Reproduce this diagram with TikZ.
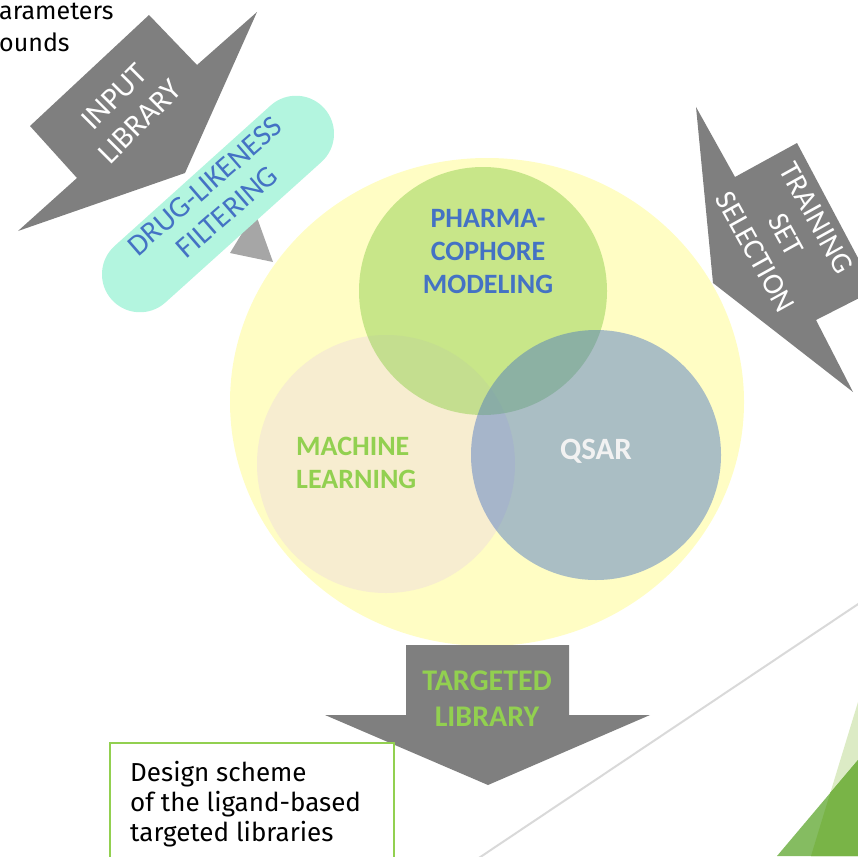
\documentclass[tikz,border=0pt]{standalone}
\usepackage{fontspec}
\setmainfont{Carlito}
\newfontfamily\notefont{Fira Sans}
\definecolor{arrowgray}{HTML}{7F7F7F}
\definecolor{tipgray}{HTML}{A6A6A6}
\definecolor{venyellow}{HTML}{FFFDC4}
\definecolor{vengreen}{HTML}{92D050}
\definecolor{venbeige}{HTML}{F7EDD0}
\definecolor{venblue}{HTML}{4472C4}
\definecolor{pillmint}{HTML}{B3F5DF}
\definecolor{labelblue}{HTML}{4472C4}
\definecolor{labelgreen}{HTML}{92D050}
\definecolor{facetlight}{HTML}{DCEBC5}
\definecolor{facetmid}{HTML}{85BC61}
\definecolor{facetdark}{HTML}{79B447}
\definecolor{rulegray}{HTML}{D9D9D9}
\begin{document}
\begin{tikzpicture}[x=1pt,y=-1pt,
  blockarrow/.style={fill=arrowgray,draw=none},
  arrowlabel/.style={text=white,align=center,inner sep=0,
    font=\fontsize{31}{36}\selectfont},
  venlabel/.style={inner sep=0,font=\bfseries\fontsize{28}{33}\selectfont},
  notetext/.style={inner sep=0,align=left,font=\notefont\fontsize{26}{30}\selectfont}]
\useasboundingbox (0,0) rectangle (858,856);
\clip (0,0) rectangle (858,856);

% slide decoration: thin rule and green facets
\coordinate (ruleA) at (900,576);
\coordinate (ruleB) at (440,884);
\draw[rulegray,line width=2pt] (ruleA) -- (ruleB);
\fill[facetlight] (858,702) -- (811,856) -- (858,856) -- cycle;
\fill[facetmid] (858,760) -- (777,856) -- (858,856) -- cycle;
\fill[facetdark] (830.3,792.7) -- (811,856) -- (858,856) -- (858,760) -- cycle;

% caption lines cut at the left margin
\node[notetext,anchor=base west,font=\notefont\fontsize{25}{30}\selectfont] (capA) at (-1,20) {arameters};
\node[notetext,anchor=base west,font=\notefont\fontsize{25}{30}\selectfont] (capB) at (-1,52) {ounds};

% Venn diagram of the three approaches
\fill[venyellow] (487,402) ellipse [x radius=257, y radius=244];
\fill[venbeige] (386,464) circle [radius=129];
\fill[vengreen,fill opacity=0.5] (483,291) circle [radius=124];
\fill[venblue,fill opacity=0.45] (596,455) circle [radius=125];
\node[venlabel,text=labelblue,align=center] (pharma) at (488,252)
  {PHARMA-\\COPHORE\\MODELING};
\node[venlabel,text=labelgreen,align=left,anchor=west] (ml) at (296,463)
  {MACHINE\\LEARNING};
\node[venlabel,text=white!95!black,font=\bfseries\fontsize{31}{36}\selectfont] (qsar) at (596,451) {QSAR};

% input library arrow
\fill[blockarrow] (149,15) -- (197,65) -- (257,12) -- (185,173)
  -- (18,231) -- (77,178) -- (30,126) -- cycle;
\node[arrowlabel,rotate=45] (input) at (127,109) {INPUT\\LIBRARY};

% filtering step
\fill[tipgray] (230,253) -- (255,212) -- (273,262) -- cycle;
\node[fill=pillmint,rounded corners=38pt,minimum width=286pt,minimum height=76pt,
  rotate=42,inner sep=0] (pill) at (218,204) {};
\node[arrowlabel,text=labelblue,rotate=41,font=\fontsize{30}{34}\selectfont]
  (druglike) at (216,199) {DRUG-LIKENESS\\FILTERING};

% training set arrow
\fill[blockarrow] (696,107) -- (735,177) -- (797,143) -- (875,290)
  -- (816,320) -- (853,392) -- (713,283) -- cycle;
\node[arrowlabel,rotate=-61,font=\fontsize{30}{35}\selectfont] (training) at (786,235)
  {TRAINING\\SET\\SELECTION};

% output arrow
\fill[blockarrow] (406,645) -- (569,645) -- (569,715) -- (650,715)
  -- (488,785) -- (325,715) -- (406,715) -- cycle;
\node[venlabel,text=labelgreen,align=center,font=\bfseries\fontsize{30}{36}\selectfont]
  (target) at (487,699) {TARGETED\\LIBRARY};

% caption box
\node[draw=labelgreen,line width=1.5pt,fill=white,minimum width=284pt,
  minimum height=127pt,inner sep=0] (note) at (252,806.5) {};
\node[notetext,anchor=north west] (notebody) at (130,761)
  {Design scheme\\of the ligand-based\\targeted libraries};
\end{tikzpicture}
\end{document}
